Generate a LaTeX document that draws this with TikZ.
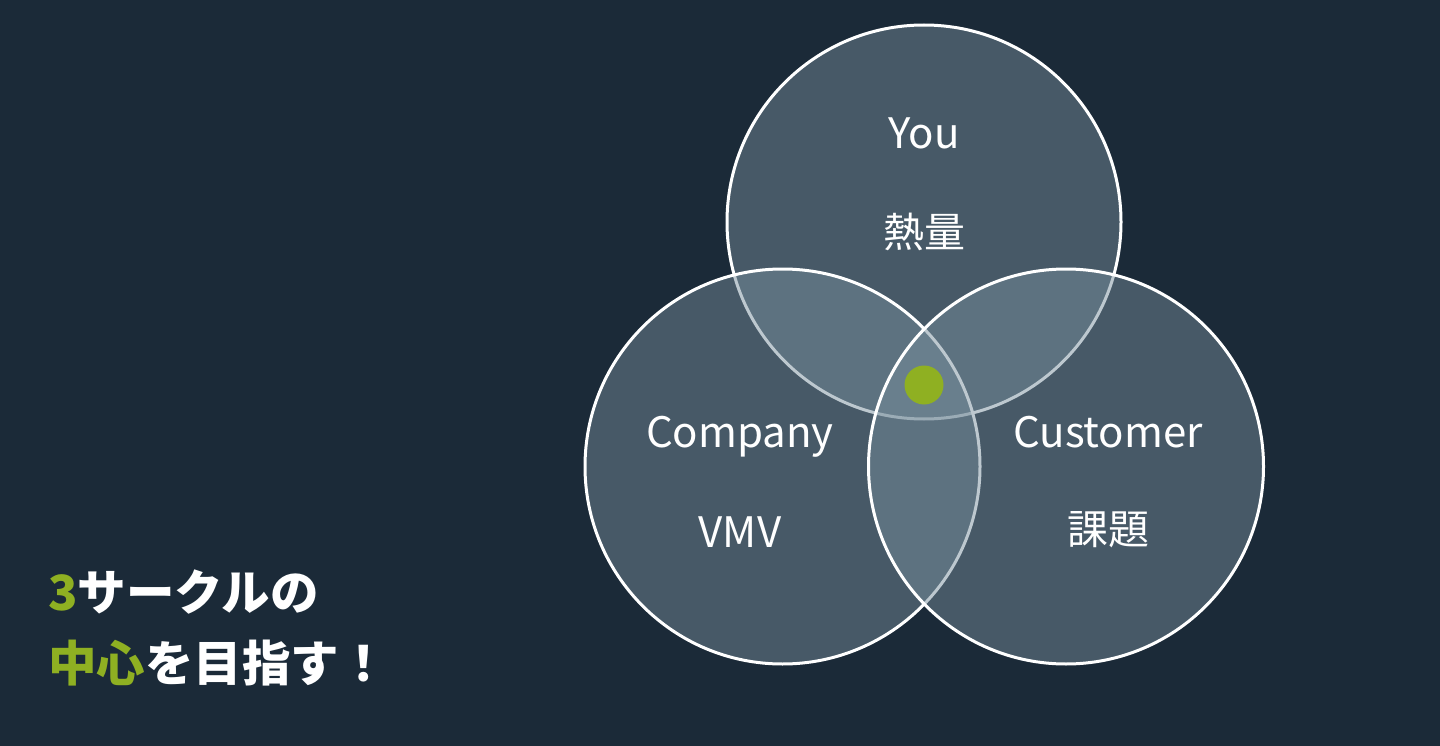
\documentclass[tikz,border=0pt]{standalone}
\usepackage{fontspec}
\setmainfont{Noto Sans CJK JP}
\definecolor{bg}{HTML}{1B2A38}
\definecolor{circfill}{HTML}{778E9C}
\definecolor{accent}{HTML}{8FB022}
\tikzset{
  venn/.style={draw=white, line width=3pt, fill=circfill, fill opacity=0.48},
  lbl/.style={text=white, anchor=base, font=\fontsize{42}{50}\selectfont, inner sep=0pt},
  jlbl/.style={text=white, anchor=center, font=\fontsize{41}{48}\selectfont, inner sep=0pt},
  slogan/.style={text=white, anchor=base west, font=\bfseries\fontsize{48.5}{56}\selectfont, inner sep=0pt}
}
\begin{document}
\begin{tikzpicture}[x=1pt,y=-1pt]
\fill[bg] (0,0) rectangle (1440,746);
\useasboundingbox (0,0) rectangle (1440,746);
\coordinate (cy) at (924,222);
\coordinate (cc) at (782.5,466.5);
\coordinate (cu) at (1066,466.5);
\draw[venn] (cy) circle (197);
\draw[venn] (cc) circle (197.5);
\draw[venn] (cu) circle (197.5);
\node[circle, fill=accent, minimum size=39pt, inner sep=0pt] (dot) at (924,385) {};
\node[lbl] (you) at (924,149) {You};
\node[jlbl] (youj) at (924,232) {熱量};
\node[lbl] (comp) at (740,447) {Company};
\node[lbl] (vmv) at (740,547) {VMV};
\node[lbl] (cust) at (1108,447) {Customer};
\node[jlbl] (custj) at (1108,530) {課題};
\node[slogan] (s1) at (48,610) {\textcolor{accent}{3}サークルの};
\node[slogan] (s2) at (48,681) {\textcolor{accent}{中心}を目指す！};
\end{tikzpicture}
\end{document}
